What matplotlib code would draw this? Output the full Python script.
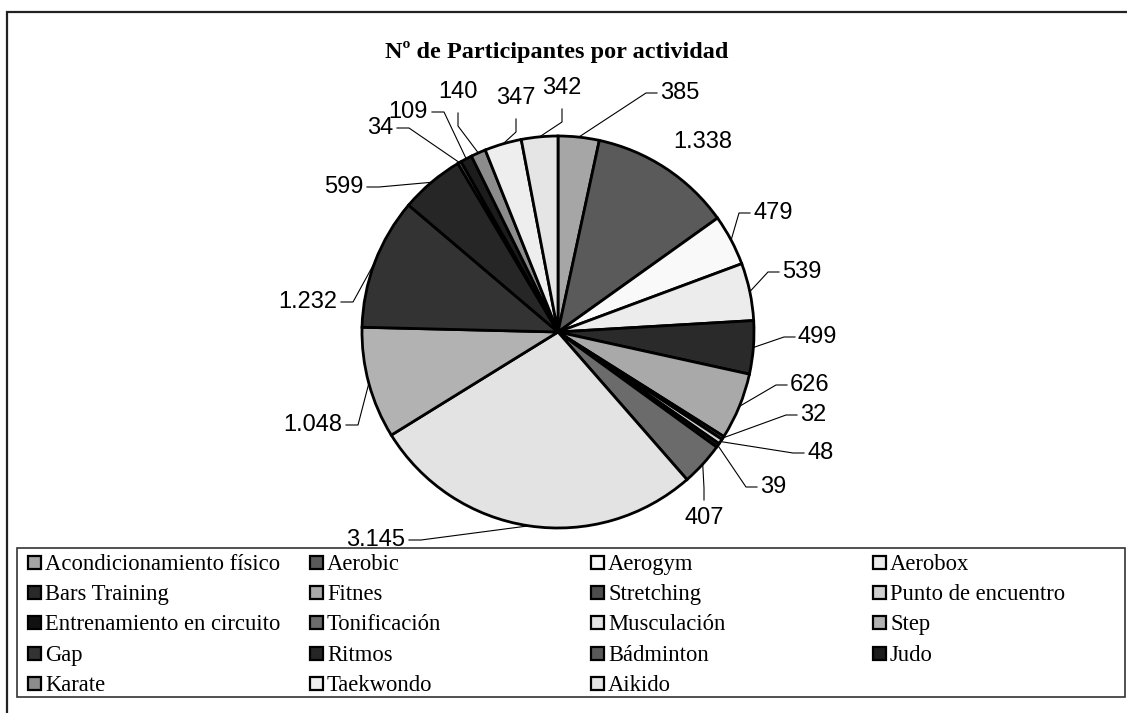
import matplotlib
matplotlib.use("Agg")
import numpy as np
import matplotlib.pyplot as plt
from matplotlib.patches import Rectangle

# data
actividades = ["Acondicionamiento físico", "Aerobic", "Aerogym", "Aerobox",
               "Bars Training", "Fitnes", "Stretching", "Punto de encuentro",
               "Entrenamiento en circuito", "Tonificación", "Musculación", "Step",
               "Gap", "Ritmos", "Bádminton", "Judo", "Karate", "Taekwondo", "Aikido"]
participantes = [385, 1338, 479, 539, 499, 626, 32, 48, 39, 407,
                 3145, 1048, 1232, 599, 34, 109, 140, 347, 342]
etiquetas = ["385", "1.338", "479", "539", "499", "626", "32", "48", "39", "407",
             "3.145", "1.048", "1.232", "599", "34", "109", "140", "347", "342"]

colores = ["#a6a6a6", "#5a5a5a", "#f9f9f9", "#ececec", "#2a2a2a", "#a9a9a9",
           "#4d4d4d", "#d0d0d0", "#111111", "#6b6b6b", "#e3e3e3", "#b2b2b2",
           "#333333", "#262626", "#595959", "#1c1c1c", "#8c8c8c", "#eeeeee", "#e5e5e5"]

# label layout in image pixels (x, y from top) and leader style
label_pos = [(660, 93, "right"), (703, 142, "none"), (753, 213, "right"),
             (782, 272, "right"), (798, 337, "right"), (790, 385, "right"),
             (800, 415, "right"), (807, 453, "right"), (760, 487, "right"),
             (704, 518, "below"), (405, 540, "left"), (342, 425, "left"),
             (337, 302, "left"), (363, 187, "left"), (393, 128, "left"),
             (428, 112, "left"), (458, 92, "above"), (516, 98, "above"),
             (562, 88, "above")]

W, H = 1127, 713
cx, cy, R = 558, 332, 196

fig = plt.figure(figsize=(W / 100, H / 100), dpi=100)
ax = fig.add_axes([0, 0, 1, 1])

wedges, _ = ax.pie(participantes, colors=colores, startangle=90, counterclock=False,
                   center=(cx, H - cy), radius=R,
                   wedgeprops=dict(edgecolor="black", linewidth=2.0))
ax.set_xlim(0, W)
ax.set_ylim(0, H)
ax.set_aspect("auto")
ax.axis("off")

# chart frame and legend frame
ax.add_patch(Rectangle((7, -10), 1140, H - 12 + 10, fill=False, edgecolor="#222222",
                       linewidth=1.6, clip_on=False))
ax.add_patch(Rectangle((17, H - 697), 1108, 697 - 548, fill=False, edgecolor="#333333",
                       linewidth=1.2, clip_on=False))

ax.text(557, H - 52, "Nº de Participantes por actividad", ha="center", va="center",
        fontsize=17.5, fontweight="bold", family="Liberation Serif")

# data labels with leader lines
for w, lab, (tx, ty, side) in zip(wedges, etiquetas, label_pos):
    mid = np.deg2rad((w.theta1 + w.theta2) / 2)
    px, py = cx + R * np.cos(mid), (H - cy) + R * np.sin(mid)
    y = H - ty
    if side == "right":
        pts = [(px, py), (tx - 14, y), (tx - 3, y)]
        ha = "left"
    elif side == "left":
        pts = [(px, py), (tx + 16, y), (tx + 4, y)]
        ha = "right"
    elif side == "above":
        pts = [(px, py), (tx, y - 34), (tx, y - 21)]
        ha = "center"
    elif side == "below":
        pts = [(px, py), (tx, y + 30), (tx, y + 18)]
        ha = "center"
    else:
        pts = []
        ha = "center"
    if pts:
        xs, ys = zip(*pts)
        ax.plot(xs, ys, color="black", linewidth=0.8)
    ax.text(tx, y, lab, ha=ha, va="center", fontsize=17, family="Liberation Sans")

# legend, row-major 4 columns
col_x = [28, 310, 591, 873]
row_y = [562, 592, 622, 653, 683]
for i, (name, col) in enumerate(zip(actividades, colores)):
    x = col_x[i % 4]
    y = H - row_y[i // 4]
    ax.add_patch(Rectangle((x, y - 6.5), 13, 13, facecolor=col, edgecolor="black",
                           linewidth=1.6))
    ax.text(x + 17, y, name, ha="left", va="center_baseline", fontsize=16.3,
            family="Liberation Serif")

fig.savefig("out.png", dpi=100)
